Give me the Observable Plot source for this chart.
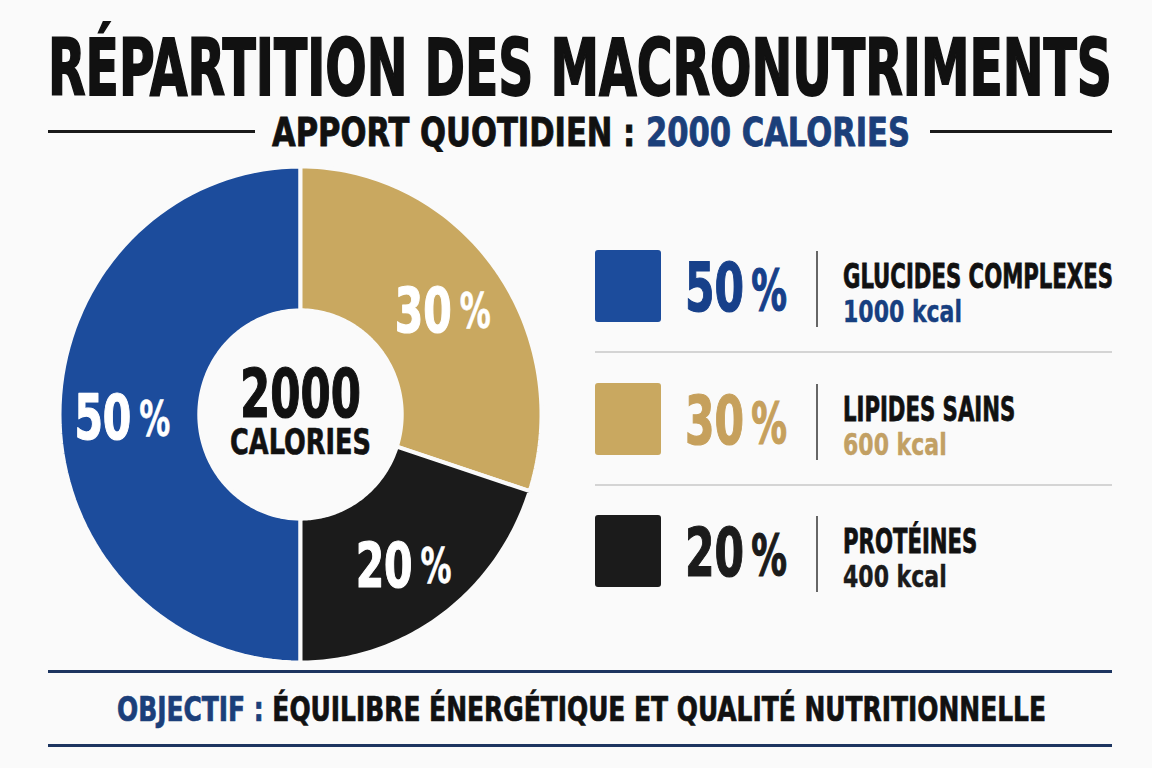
<!DOCTYPE html>
<html><head><meta charset="utf-8">
<script src="https://cdn.jsdelivr.net/npm/d3@7"></script>
<script src="https://cdn.jsdelivr.net/npm/@observablehq/plot@0.6"></script>
<style>
html,body{margin:0;padding:0;background:#fafafa;}
#page{position:relative;width:1152px;height:768px;overflow:hidden;font-family:"Liberation Sans Narrow","Arial Narrow","DejaVu Sans Condensed","Roboto Condensed",sans-serif;font-weight:700;}
.t{position:absolute;white-space:nowrap;line-height:normal;transform-origin:0 0;}
.rule{position:absolute;}
#donut{position:absolute;left:30px;top:144px;}
</style></head><body><div id="page"><div id="donut"></div></div>
<script>
// ---- data ----
const categories = ["GLUCIDES COMPLEXES", "LIPIDES SAINS", "PROTÉINES"];
const percents = [50, 30, 20];
const calories = [1000, 600, 400];
const sliceColors = ["#1c4c9c", "#c9a860", "#1b1b1b"];
const pctColors = ["#17408a", "#c6a05c", "#1b1b1b"];
const kcalColors = ["#173f80", "#c2a064", "#1b1b1b"];
const titleText = "RÉPARTITION DES MACRONUTRIMENTS";
const subtitleLead = "APPORT QUOTIDIEN : ";
const unitText = "CALORIES";
const footerLead = "OBJECTIF : ";
const footerText = "ÉQUILIBRE ÉNERGÉTIQUE ET QUALITÉ NUTRITIONNELLE";

const total = d3.sum(calories);
const page = document.getElementById("page");
const FONT = '"Liberation Sans Narrow","Arial Narrow","DejaVu Sans Condensed","Roboto Condensed",sans-serif';

function place(parts, {x, baseline, capH, width, scale, strokeW}) {
  const F = capH / 0.73;
  const div = document.createElement("div");
  div.className = "t";
  div.style.fontSize = F + "px";
  div.style.left = x + "px";
  div.style.top = "0px";
  parts.forEach(([txt, color, k]) => {
    const s = document.createElement("span");
    s.textContent = txt; s.style.color = color;
    if (strokeW) s.style.webkitTextStroke = strokeW + "px " + color;
    if (k) s.style.fontSize = (k * F) + "px";
    div.appendChild(s);
  });
  const strut = document.createElement("span");
  strut.style.cssText = "display:inline-block;width:0;height:0;vertical-align:baseline";
  div.appendChild(strut);
  page.appendChild(div);
  const pr = page.getBoundingClientRect();
  const b = strut.getBoundingClientRect().top - pr.top;
  div.style.top = (baseline - b) + "px";
  const w = div.getBoundingClientRect().width;
  const sx = scale != null ? scale : (width ? width / w : 1);
  div.style.transform = `scaleX(${sx})`;
  div._sx = width ? width / w : sx;
  return div;
}
function rule(x, y, w, h, color) {
  const d = document.createElement("div");
  d.className = "rule";
  Object.assign(d.style, {left: x + "px", top: y + "px", width: w + "px", height: h + "px", background: color});
  page.appendChild(d);
}

// ---- titles ----
place([[titleText, "#111"]], {x: 48, baseline: 95, capH: 57, width: 1064, strokeW: 1.8});
place([[subtitleLead, "#111"], [total + " " + unitText, "#1b3f7a"]], {x: 272, baseline: 146, capH: 28, width: 638, strokeW: 0.8});
rule(48, 130, 207, 3, "#1a1a1a");
rule(930, 130, 182, 3, "#1a1a1a");

// ---- footer ----
rule(48, 670, 1064, 3, "#1d3560");
rule(48, 744, 1064, 3, "#1d3560");
place([[footerLead, "#1b3f7a"], [footerText, "#111"]], {x: 117, baseline: 721, capH: 25, width: 929, strokeW: 0.7});

// ---- donut (Plot) ----
const inner = 0.42;
const arcs = [];
const labels = [];
let acc = 50; // blue starts at the bottom (180°) and runs clockwise
categories.forEach((c, i) => {
  const a0 = acc / 100 * 2 * Math.PI;
  acc += percents[i];
  const a1 = acc / 100 * 2 * Math.PI;
  const n = 80;
  for (let k = 0; k <= n; k++) {
    const a = a0 + (a1 - a0) * k / n;
    arcs.push({key: c, x: Math.sin(a), y: Math.cos(a)});
  }
  for (let k = n; k >= 0; k--) {
    const a = a0 + (a1 - a0) * k / n;
    arcs.push({key: c, x: inner * Math.sin(a), y: inner * Math.cos(a)});
  }
  const am = (a0 + a1) / 2, rm = 0.735;
  labels.push({key: c, p: percents[i], x: rm * Math.sin(am), y: rm * Math.cos(am)});
});

const donut = Plot.plot({
  width: 540, height: 540,
  marginLeft: 29, marginRight: 29, marginTop: 22, marginBottom: 22,
  x: {domain: [-1, 1], axis: null},
  y: {domain: [-1, 1], axis: null},
  color: {domain: categories, range: sliceColors},
  style: {background: "transparent", fontFamily: FONT},
  marks: [
    Plot.line(arcs, {x: "x", y: "y", z: "key", fill: "key", stroke: "#fafafa", strokeWidth: 4, curve: "linear-closed"}),
    Plot.text(labels, {x: "x", y: "y", text: d => String(d.p), textAnchor: "end", dx: 8, dy: 5, fill: "white", stroke: "white", strokeWidth: 1.2, fontSize: 62, fontWeight: 700, className: "pctnum"}),
    Plot.text(labels, {x: "x", y: "y", text: d => "%", textAnchor: "start", dx: 16, dy: 5, fill: "white", stroke: "white", strokeWidth: 0.6, fontSize: 50, fontWeight: 700, className: "pctsign"}),
    Plot.text([total], {x: () => 0, y: () => 0, text: d => String(d), dy: -19, fill: "#111", stroke: "#111", strokeWidth: 1.2, fontSize: 68, fontWeight: 700, className: "ctotal"}),
    Plot.text([unitText], {x: () => 0, y: () => 0, text: d => d, dy: 28, fill: "#111", stroke: "#111", strokeWidth: 0.6, fontSize: 35, fontWeight: 700, className: "cunit"})
  ]
});
document.getElementById("donut").appendChild(donut);

// horizontally condense the donut texts to the reference widths
function condense(cls, targetWidth) {
  const texts = [...donut.querySelectorAll(`.${cls} text`)];
  if (!texts.length) return;
  const w0 = texts[0].getBBox().width;
  const sx = targetWidth / w0;
  texts.forEach(t => {
    let tr = t.getAttribute("transform");
    if (!tr) {
      const x = +(t.getAttribute("x") || 0), y = +(t.getAttribute("y") || 0);
      t.removeAttribute("x"); t.removeAttribute("y");
      tr = `translate(${x},${y})`;
    }
    t.setAttribute("transform", `${tr} scale(${sx},1)`);
  });
}
condense("pctnum", 57);
condense("pctsign", 31);
condense("ctotal", 121);
condense("cunit", 141);

// ---- legend ----
const rowTop = i => 250 + i * 132.5;
let pctScale = null, labScale = null, kcalScale = null;
categories.forEach((c, i) => {
  const top = rowTop(i);
  const sq = document.createElement("div");
  Object.assign(sq.style, {position: "absolute", left: "595px", top: top + "px", width: "66px", height: "72px", background: sliceColors[i], borderRadius: "3px"});
  page.appendChild(sq);
  rule(816, top + 1, 2, 76, "#666");
  if (i < categories.length - 1) rule(595, top + 101, 517, 2, "#d4d4d4");
  const p = place([[String(percents[i]), pctColors[i]], ["\u2009%", pctColors[i], 0.84]], {x: 685, baseline: top + 61, capH: 50, width: i === 0 ? 102 : null, scale: pctScale, strokeW: 1.2});
  if (i === 0) pctScale = p._sx;
  const l = place([[c, "#111"]], {x: 843, baseline: top + 38, capH: 25, width: i === 0 ? 270 : null, scale: labScale, strokeW: 0.8});
  if (i === 0) labScale = l._sx;
  const k = place([[calories[i] + " kcal", kcalColors[i]]], {x: 843, baseline: top + 72, capH: 22, width: i === 0 ? 119 : null, scale: kcalScale, strokeW: 0.4});
  if (i === 0) kcalScale = k._sx;
});
</script>
</body></html>
